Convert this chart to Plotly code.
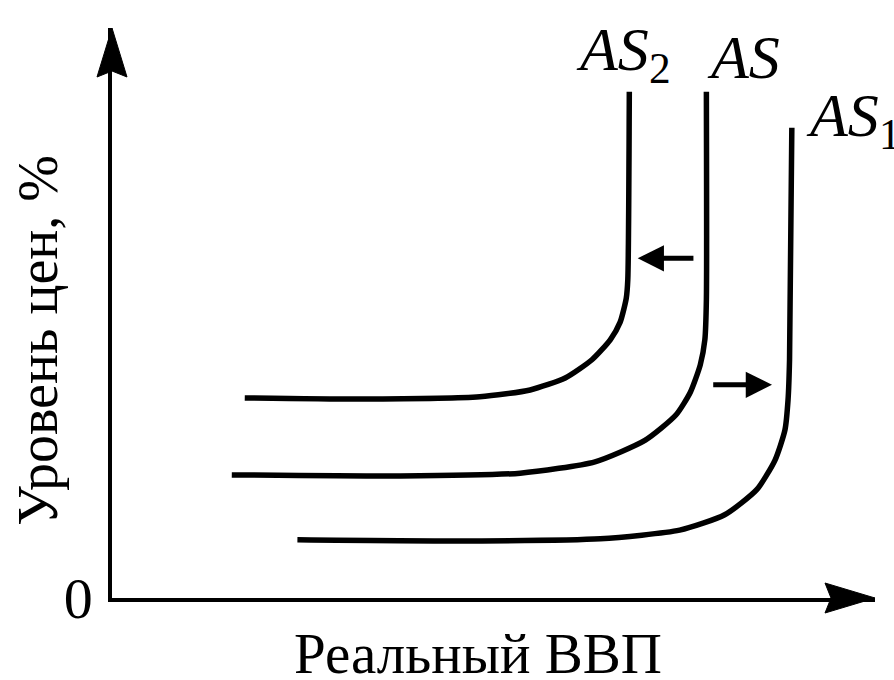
import plotly.graph_objects as go

# ---- data (abstract units: x = real GDP, y = price level, axes span 0..100) ----
as2_x = [17.4, 32.5, 48.2, 54.8, 59.4, 62.9, 65.3, 66.6, 67.4, 67.6, 67.8]
as2_y = [35.1, 34.9, 35.3, 36.5, 38.6, 41.8, 45.3, 48.4, 52.6, 55.8, 88.8]
as_x = [15.7, 37.8, 53.5, 63.3, 69.9, 73.9, 75.8, 77.1, 77.7, 77.9, 77.9]
as_y = [21.6, 21.4, 21.9, 23.9, 27.7, 32.1, 36.1, 40.9, 45.3, 52.3, 88.8]
as1_x = [24.3, 44.3, 64.0, 74.4, 80.3, 84.5, 86.9, 88.2, 88.6, 88.8, 89.1]
as1_y = [10.2, 10.0, 10.4, 11.9, 14.6, 19.0, 24.2, 29.5, 34.7, 41.8, 82.5]

# shift arrows: (tail_x, tip_x, y)
shift_left = (76.4, 68.9, 59.6)
shift_right = (78.6, 86.5, 37.4)

curve_names = ["AS<sub><span style='font-style:normal'>2</span></sub>", "AS",
               "AS<sub><span style='font-style:normal'>1</span></sub>"]
label_pos = [(67.0, 95.6, "center"), (82.7, 95.0, "center"), (90.7, 84.0, "left")]

x_title = "Реальный ВВП"
y_title = "Уровень цен, %"
origin_label = "0"

SERIF = "Liberation Serif"

fig = go.Figure()
for xs, ys in [(as2_x, as2_y), (as_x, as_y), (as1_x, as1_y)]:
    fig.add_trace(go.Scatter(x=xs, y=ys, mode="lines",
                             line=dict(color="black", width=5.5, shape="spline", smoothing=0.6),
                             showlegend=False, hoverinfo="skip"))

annotations = []
for (tx, tip, yy) in [shift_left, shift_right]:
    annotations.append(dict(x=tip, y=yy, ax=tx, ay=yy, xref="x", yref="y", axref="x", ayref="y",
                            showarrow=True, arrowhead=2, arrowwidth=5, arrowsize=1.05,
                            arrowcolor="black", text=""))

for name, (lx, ly, anch) in zip(curve_names, label_pos):
    annotations.append(dict(x=lx, y=ly, xref="x", yref="y", text=name, showarrow=False,
                            xanchor=anch, yanchor="middle",
                            font=dict(family=SERIF, size=62, color="black", style="italic")))

# titles in paper coordinates (paper spans the axis box)
annotations.append(dict(x=0.48, y=-0.098, xref="paper", yref="paper", text=x_title, showarrow=False,
                        xanchor="center", yanchor="middle",
                        font=dict(family=SERIF, size=57, color="black")))
annotations.append(dict(x=-0.097, y=0.453, xref="paper", yref="paper", text=y_title, showarrow=False,
                        textangle=-90, xanchor="center", yanchor="middle",
                        font=dict(family=SERIF, size=56, color="black")))

# arrowheads at axis ends (pixel-sized paths anchored at the axis ends)
shapes = [
    dict(type="path", xref="paper", yref="paper", xsizemode="pixel", ysizemode="pixel",
         xanchor=0, yanchor=1, path="M0,0 L-15,-49 L0,-43 L15,-49 Z",
         fillcolor="black", line=dict(color="black", width=1)),
    dict(type="path", xref="paper", yref="paper", xsizemode="pixel", ysizemode="pixel",
         xanchor=1, yanchor=0, path="M0,0 L-50,15 L-44,0 L-50,-15 Z",
         fillcolor="black", line=dict(color="black", width=1)),
]

fig.update_layout(
    width=894, height=680,
    margin=dict(l=112, r=19, t=28, b=82),
    paper_bgcolor="white", plot_bgcolor="white",
    annotations=annotations, shapes=shapes,
    xaxis=dict(range=[0, 100], showgrid=False, zeroline=False, showline=True,
               linecolor="black", linewidth=3.5, showticklabels=False, ticks=""),
    yaxis=dict(range=[0, 100], showgrid=False, zeroline=False, showline=True,
               linecolor="black", linewidth=3.5, tickvals=[0], ticktext=[origin_label],
               ticks="", ticklabelstandoff=4,
               tickfont=dict(family=SERIF, size=58, color="black")),
)

fig.write_html("out.html", config={"displayModeBar": False},
               post_script="document.body.style.margin='0';")
